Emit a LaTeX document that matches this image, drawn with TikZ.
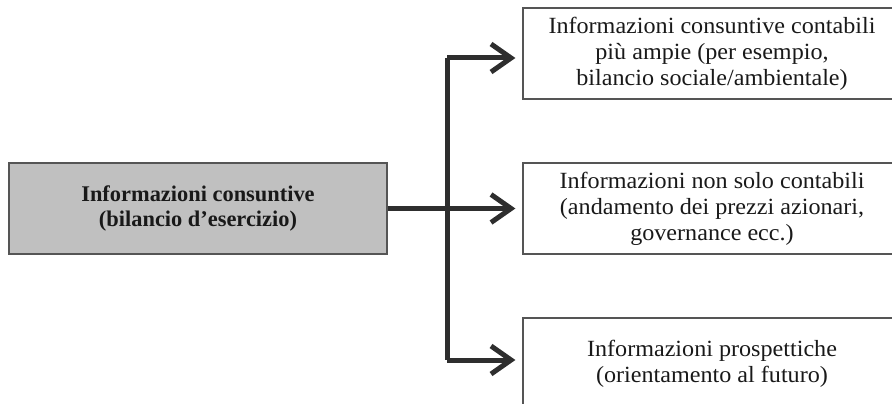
\documentclass[tikz,border=0pt]{standalone}
\usepackage{fontspec}
\setmainfont{Liberation Serif}
\newfontfamily\wideserif[FakeStretch=1.04]{Liberation Serif}
\usetikzlibrary{arrows.meta}
\definecolor{boxgray}{HTML}{C0C0C0}
\definecolor{linedark}{HTML}{2E2E2E}
\definecolor{borderc}{HTML}{555555}
\tikzset{
  infobox/.style={draw=borderc, line width=1.2pt, fill=white, minimum width=378pt, minimum height=91pt,
    inner sep=0pt, align=center, font=\wideserif\fontsize{23.2}{26}\selectfont, text=black!90},
  srcbox/.style={infobox, fill=boxgray, font=\fontsize{22.4}{24.5}\selectfont\bfseries},
  conn/.style={draw=linedark, line width=5pt},
  arr/.style={conn, -{Straight Barb[length=20pt,width=28pt,line width=5pt]}, shorten >=7pt}
}
\begin{document}
\begin{tikzpicture}[x=1pt,y=-1pt]
\useasboundingbox (0,0) rectangle (892,404);
\node[srcbox] (src) at (198,208.5) {Informazioni consuntive\\(bilancio d’esercizio)};
\node[infobox] (top) at (712,53.5) {Informazioni consuntive contabili\\più ampie (per esempio,\\bilancio sociale/ambientale)};
\node[infobox] (mid) at (712,208.5) {Informazioni non solo contabili\\(andamento dei prezzi azionari,\\governance ecc.)};
\node[infobox] (bot) at (712,363.5) {Informazioni prospettiche\\(orientamento al futuro)};
\coordinate (jt) at (447,58);
\coordinate (jb) at (447,360);
\draw[conn] (jt) -- (jb);
\draw[conn] (src.east) -- (jt |- src.east);
\draw[arr] (jt) -- (top.west |- jt);
\draw[arr] (jt |- mid.west) -- (mid.west);
\draw[arr] (jb) -- (bot.west |- jb);
\end{tikzpicture}
\end{document}
